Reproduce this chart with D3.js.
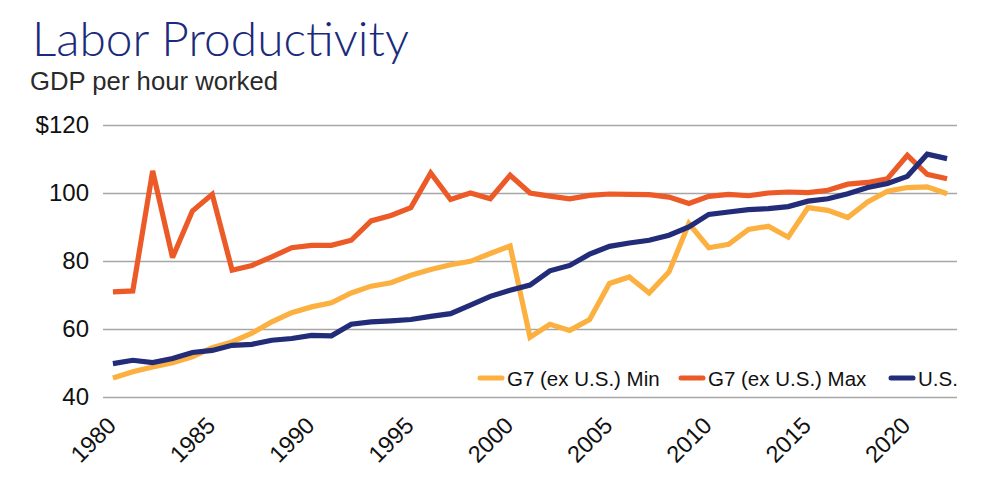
<!DOCTYPE html>
<html>
<head>
<meta charset="utf-8">
<script src="https://cdn.jsdelivr.net/npm/d3@7"></script>
<style>
  html, body { margin: 0; padding: 0; background: #fff; }
  svg { display: block; }
</style>
</head>
<body>
<svg id="chart" width="991" height="484"></svg>
<script>
const years = d3.range(1980, 2023);
const tickYears = [1980, 1985, 1990, 1995, 2000, 2005, 2010, 2015, 2020];
const yTicks = [40, 60, 80, 100, 120];
const yTickLabels = ["40", "60", "80", "100", "$120"];

const g7Min = [45.6, 47.4, 48.8, 50.1, 51.8, 54.5, 56.2, 58.8, 62.1, 64.8,
  66.5, 67.7, 70.6, 72.6, 73.6, 75.8, 77.5, 78.9, 79.9, 82.2,
  84.4, 57.6, 61.4, 59.6, 62.8, 73.4, 75.3, 70.6, 76.8, 91.0,
  83.9, 84.9, 89.3, 90.2, 87.0, 95.7, 94.9, 92.8, 97.4, 100.5,
  101.6, 101.8, 99.8];
const g7Max = [70.9, 71.2, 106.5, 81.0, 94.7, 99.6, 77.3, 78.7, 81.2, 83.9,
  84.6, 84.6, 86.1, 91.8, 93.4, 95.7, 105.9, 98.1, 100.0, 98.3,
  105.2, 100.0, 99.1, 98.3, 99.3, 99.7, 99.6, 99.5, 98.8, 96.9,
  99.0, 99.6, 99.2, 100.0, 100.3, 100.1, 100.8, 102.6, 103.1, 104.2,
  111.1, 105.5, 104.2];
const us = [49.8, 50.8, 50.1, 51.3, 53.1, 53.7, 55.2, 55.5, 56.7, 57.2,
  58.1, 58.0, 61.4, 62.1, 62.4, 62.8, 63.7, 64.5, 67.0, 69.6,
  71.4, 72.9, 77.1, 78.7, 82.0, 84.3, 85.3, 86.1, 87.6, 90.0,
  93.7, 94.4, 95.1, 95.4, 96.0, 97.6, 98.3, 99.8, 101.6, 102.8,
  104.9, 111.4, 110.1];

const seriesNames = ["G7 (ex U.S.) Min", "G7 (ex U.S.) Max", "U.S."];
const seriesColors = ["#fbb040", "#ec5a28", "#232c78"];
const seriesData = [g7Min, g7Max, us];

const svg = d3.select("#chart");
const plotLeft = 103, plotRight = 957, plotTop = 125, plotBottom = 397;

const x = d3.scalePoint().domain(years).range([plotLeft, plotRight]).padding(0.5);
const y = d3.scaleLinear().domain([40, 120]).range([plotBottom, plotTop]);

// Title
const title = svg.append("text")
  .attr("x", 32).attr("y", 56)
  .attr("font-family", "Lato, 'Open Sans', sans-serif")
  .attr("font-weight", 300)
  .attr("font-size", 46)
  .attr("fill", "#1b2a7a")
  .text("Labor Productivity");
let tw = title.node().getComputedTextLength();
title.attr("font-size", 46 * 377 / tw);

const sub = svg.append("text")
  .attr("x", 30).attr("y", 90)
  .attr("font-family", "'Liberation Sans', Arial, sans-serif")
  .attr("font-size", 22)
  .attr("fill", "#2a2a2a")
  .text("GDP per hour worked");
let sw = sub.node().getComputedTextLength();
sub.attr("font-size", 22 * 248 / sw);

// Y grid and labels
const yAxis = d3.axisLeft(y).tickValues(yTicks)
  .tickSize(-(plotRight - plotLeft))
  .tickFormat((d, i) => yTickLabels[i]);
const yg = svg.append("g").attr("transform", `translate(${plotLeft},0)`).call(yAxis);
yg.select(".domain").remove();
yg.selectAll(".tick line").attr("stroke", "#a6a6a6").attr("stroke-width", 1.5);
yg.selectAll(".tick text")
  .attr("x", -14)
  .attr("font-family", "'Liberation Sans', Arial, sans-serif")
  .attr("font-size", 24)
  .attr("fill", "#111");

// X axis labels
const xAxis = d3.axisBottom(x).tickValues(tickYears).tickSize(0);
const xg = svg.append("g").attr("transform", `translate(0,${plotBottom})`).call(xAxis);
xg.select(".domain").remove();
xg.selectAll(".tick text")
  .attr("font-family", "'Liberation Sans', Arial, sans-serif")
  .attr("font-size", 23.5)
  .attr("fill", "#111")
  .attr("text-anchor", "end")
  .attr("dy", 0)
  .attr("y", 0)
  .attr("transform", "translate(4,30) rotate(-45)");

// Lines
const line = d3.line().x((d, i) => x(years[i])).y(d => y(d));
seriesData.forEach((data, k) => {
  svg.append("path")
    .datum(data)
    .attr("d", line)
    .attr("fill", "none")
    .attr("stroke", seriesColors[k])
    .attr("stroke-width", 5.2)
    .attr("stroke-linejoin", "miter")
    .attr("stroke-miterlimit", 3);
});

// Legend
const legendX = [480, 681, 891];
const legendY = 378;
seriesNames.forEach((name, k) => {
  const gL = svg.append("g");
  gL.append("line")
    .attr("x1", legendX[k]).attr("x2", legendX[k] + 22)
    .attr("y1", legendY).attr("y2", legendY)
    .attr("stroke", seriesColors[k]).attr("stroke-width", 5)
    .attr("stroke-linecap", "round");
  gL.append("text")
    .attr("x", legendX[k] + 27).attr("y", legendY + 7.5)
    .attr("font-family", "'Liberation Sans', Arial, sans-serif")
    .attr("font-size", 20.5)
    .attr("fill", "#111")
    .text(name);
});
</script>
</body>
</html>
